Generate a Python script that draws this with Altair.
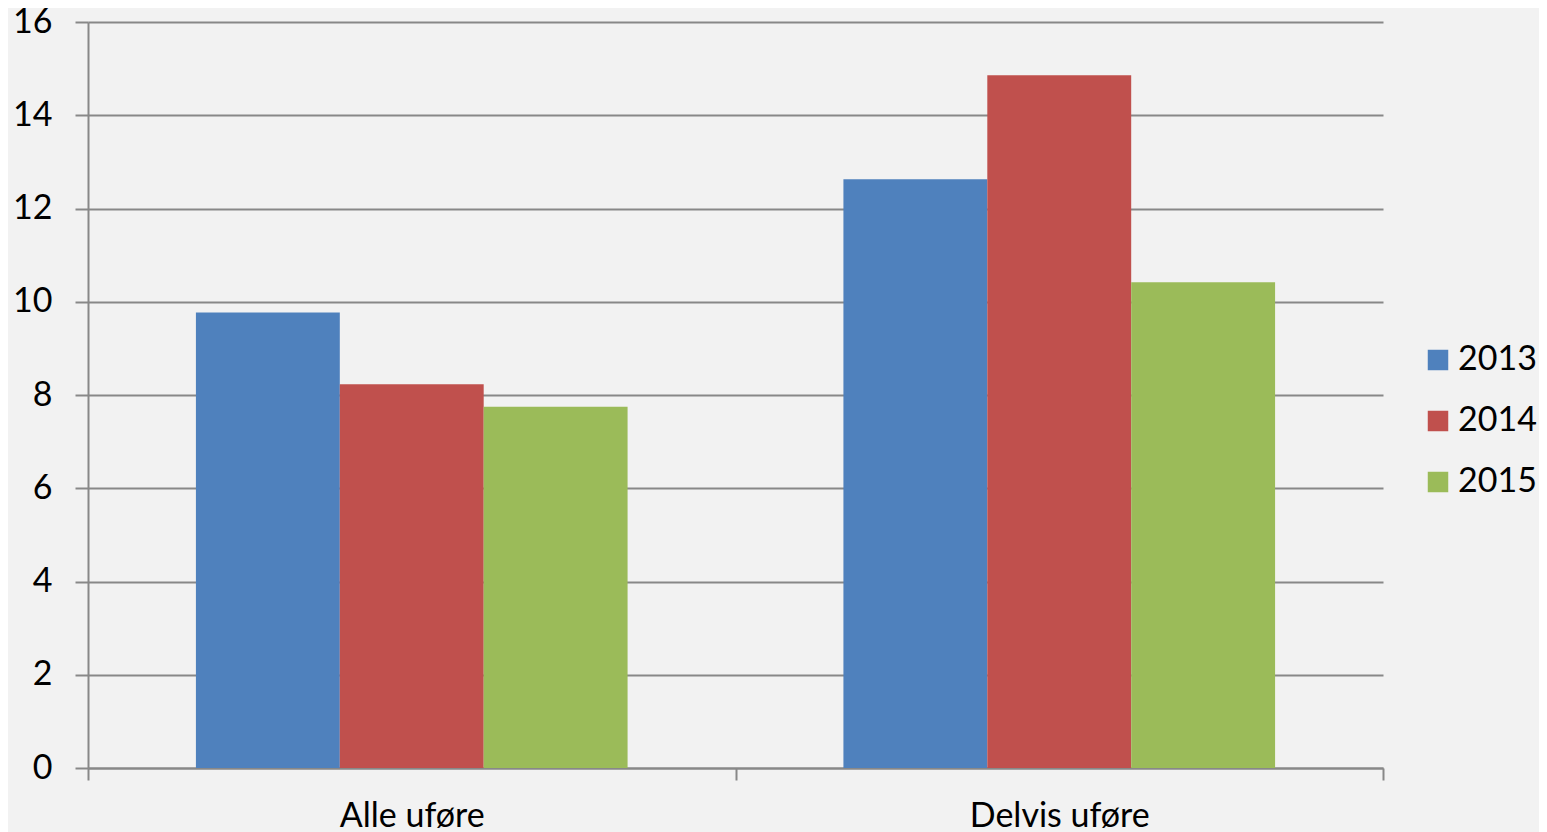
import altair as alt
import pandas as pd

categories = ["Alle uføre", "Delvis uføre"]
years = ["2013", "2014", "2015"]
values_2013 = [9.77, 12.63]
values_2014 = [8.23, 14.86]
values_2015 = [7.75, 10.42]
colors = ["#4f81bd", "#c0504d", "#9bbb59"]
y_ticks = [0, 2, 4, 6, 8, 10, 12, 14, 16]

rows = []
for yr, vals in zip(years, [values_2013, values_2014, values_2015]):
    for c, v in zip(categories, vals):
        rows.append({"kategori": c, "år": yr, "verdi": v})
df = pd.DataFrame(rows)

FONT = "Lato"
GRID = "#888888"
FS = 34

chart = alt.Chart(df).mark_bar().encode(
    x=alt.X("kategori:N", sort=categories,
            scale=alt.Scale(paddingInner=0, paddingOuter=0),
            axis=alt.Axis(title=None, labelAngle=0, tickBand="extent",
                          ticks=True, tickSize=12, tickColor=GRID, tickWidth=2,
                          domainColor=GRID, domainWidth=2,
                          labelFont=FONT, labelFontSize=FS, labelColor="#000000",
                          labelPadding=19, grid=False)),
    xOffset=alt.XOffset("år:N", sort=years,
                        scale=alt.Scale(paddingOuter=0.75, paddingInner=0)),
    y=alt.Y("verdi:Q", scale=alt.Scale(domain=[0, 16], nice=False),
            axis=alt.Axis(title=None, values=y_ticks, grid=True,
                          gridColor=GRID, gridWidth=2,
                          ticks=True, tickSize=13, tickColor=GRID, tickWidth=2,
                          domainColor=GRID, domainWidth=2,
                          labelFont=FONT, labelFontSize=FS, labelColor="#000000",
                          labelPadding=23)),
    color=alt.Color("år:N", sort=years,
                    scale=alt.Scale(domain=years, range=colors),
                    legend=alt.Legend(title=None, orient="none",
                                      legendX=1333, legendY=321,
                                      symbolType="square", symbolSize=420,
                                      symbolStrokeWidth=0,
                                      labelFont=FONT, labelFontSize=FS,
                                      labelColor="#000000", labelOffset=3,
                                      rowPadding=27)),
).properties(
    width=1295, height=746,
    autosize=alt.AutoSizeParams(type="none"),
    padding={"left": 80, "top": 14, "right": 156, "bottom": 64},
    background="#f2f2f2",
).configure_view(stroke=None, fill="#f2f2f2")

chart.save("out.html", embed_options={"renderer": "svg", "actions": False})
